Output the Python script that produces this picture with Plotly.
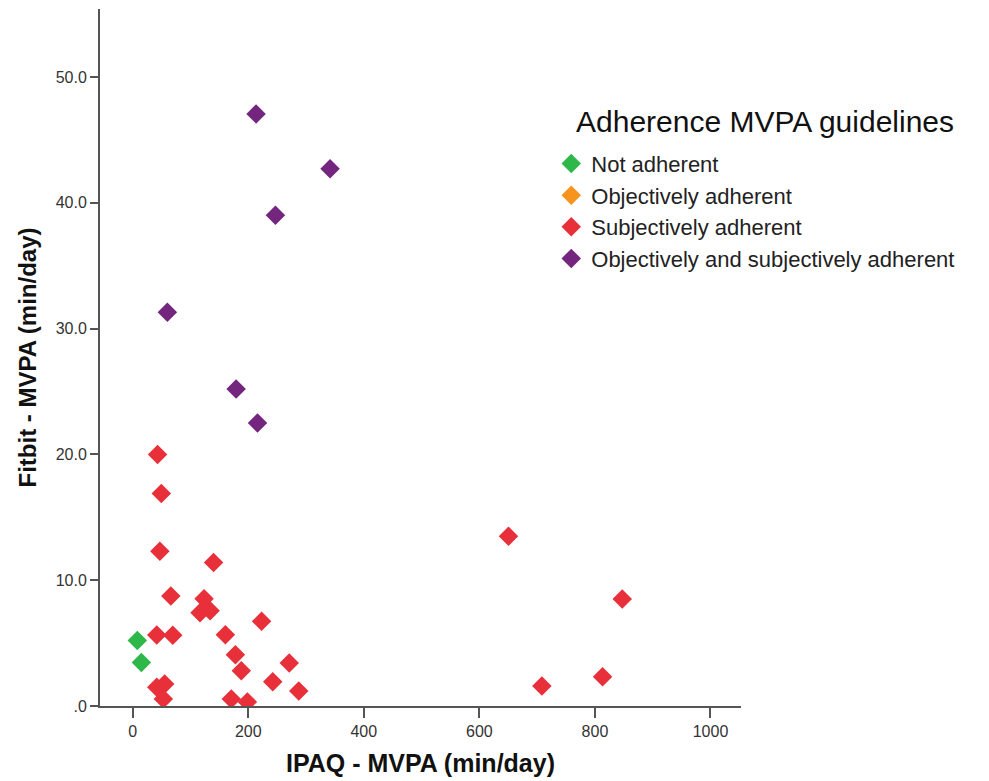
import plotly.graph_objects as go

# Data
not_x = [8, 15]
not_y = [5.2, 3.45]

obj_x = [None]
obj_y = [None]

subj_x = [43, 49.5, 47, 140, 66, 123.5, 116.5, 134, 223, 41.6, 69.3, 160.4, 177.7, 188,
          271, 242.4, 287.4, 41.6, 55.4, 53, 170.7, 198.5, 650.4, 847.3, 708.2, 813.2]
subj_y = [20.0, 16.9, 12.3, 11.4, 8.74, 8.53, 7.42, 7.58, 6.73, 5.64, 5.62, 5.67, 4.08, 2.81,
          3.42, 1.93, 1.19, 1.49, 1.75, 0.56, 0.56, 0.32, 13.5, 8.5, 1.59, 2.33]

both_x = [213.5, 341.6, 247, 60, 179, 216]
both_y = [47.06, 42.7, 39.0, 31.3, 25.2, 22.5]

series_names = ["Not adherent", "Objectively adherent", "Subjectively adherent",
                "Objectively and subjectively adherent"]
series_colors = ["#2eb84a", "#f7941e", "#e8303a", "#74267f"]
legend_title = "Adherence MVPA guidelines"

y_tickvals = [0, 10, 20, 30, 40, 50]
y_ticktext = [".0", "10.0", "20.0", "30.0", "40.0", "50.0"]
x_tickvals = [0, 200, 400, 600, 800, 1000]

fig = go.Figure()
for xs, ys, name, col in zip([not_x, obj_x, subj_x, both_x], [not_y, obj_y, subj_y, both_y],
                             series_names, series_colors):
    fig.add_trace(go.Scatter(
        x=xs, y=ys, mode="markers", name=name,
        marker=dict(symbol="diamond", size=15, color=col, line=dict(width=0)),
    ))

fig.add_annotation(
    text=legend_title, xref="paper", yref="paper", x=0.7395, y=0.838,
    xanchor="left", yanchor="middle", showarrow=False,
    font=dict(size=30, color="#111111"),
)

axis_color = "#555555"
fig.update_layout(
    width=989, height=781,
    margin=dict(l=100, r=248, t=9, b=75),
    paper_bgcolor="white", plot_bgcolor="white",
    font=dict(family="Liberation Sans, Arial, sans-serif", color="#222222"),
    showlegend=True,
    legend=dict(
        x=0.704, xanchor="left", y=0.808, yanchor="top",
        font=dict(size=22, color="#222222"),
        bgcolor="rgba(0,0,0,0)", itemwidth=30, tracegroupgap=0,
    ),
    xaxis=dict(
        range=[-56.6, 1052.8], tickvals=x_tickvals, ticks="outside", ticklen=10,
        tickcolor=axis_color, tickwidth=2, showline=True, linecolor=axis_color, linewidth=2,
        showgrid=False, zeroline=False, tickfont=dict(size=16, color="#333333"),
        title=dict(text="<b>IPAQ - MVPA (min/day)</b>", font=dict(size=25, color="#111111"), standoff=15),
    ),
    yaxis=dict(
        range=[0, 55.4], tickvals=y_tickvals, ticktext=y_ticktext, ticks="outside", ticklen=8,
        tickcolor=axis_color, tickwidth=2, showline=True, linecolor=axis_color, linewidth=2,
        showgrid=False, zeroline=False, tickfont=dict(size=16, color="#333333"),
        title=dict(text="<b>Fitbit - MVPA (min/day)</b>", font=dict(size=24, color="#111111"), standoff=12),
    ),
)

fig.write_html("out.html")
